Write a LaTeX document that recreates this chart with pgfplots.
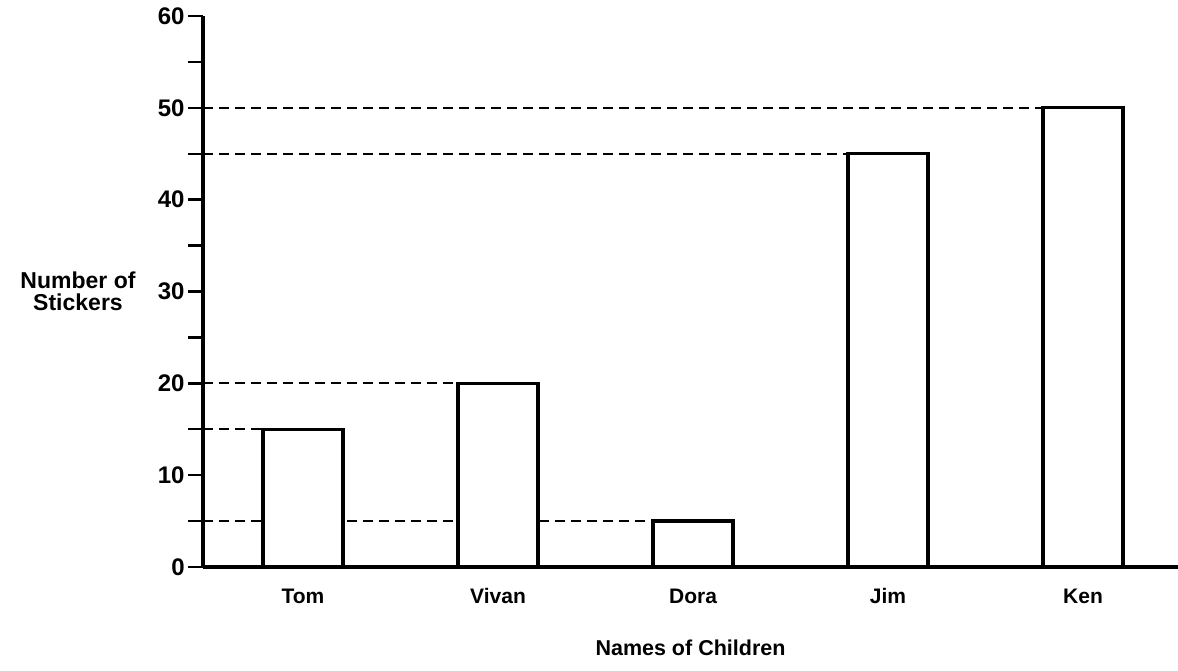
\documentclass[border=0pt]{standalone}
\usepackage{pgfplots}
\pgfplotsset{compat=1.18}
\usepackage{fontspec}
\setmainfont{Liberation Sans}
\begin{document}
\begin{tikzpicture}
\useasboundingbox (0,0) rectangle (589pt,335pt);
\begin{axis}[
  at={(101.5pt,51.5pt)}, anchor=south west,
  scale only axis, width=487.5pt, height=275.5pt,
  xmin=-0.5128, xmax=4.487, ymin=0, ymax=60,
  axis x line=bottom, axis y line=left,
  axis line style={-, line width=1.8pt},
  axis on top,
  xtick={0,1,2,3,4},
  xticklabels={Tom,Vivan,Dora,Jim,Ken},
  x tick style={draw=none},
  ytick={0,10,...,60},
  minor ytick={5,15,...,55},
  tick align=outside,
  major tick length=7.5pt, minor tick length=7.5pt,
  y tick style={line width=1.2pt, black},
  /pgf/number format/assume math mode=true,
  yticklabel style={font=\bfseries\fontsize{12}{13}\selectfont, inner sep=1.5pt},
  xticklabel style={font=\bfseries\fontsize{10.5}{12}\selectfont, yshift=1pt, text height=1.6ex, text depth=0.3ex},
  xlabel={Names of Children},
  xlabel style={font=\bfseries\fontsize{10.75}{12}\selectfont, at={(axis description cs:0.5,0)}, anchor=center, yshift=-40.5pt},
  ylabel={Number of\\Stickers},
  ylabel style={font=\bfseries\fontsize{11.5}{11}\selectfont, align=center, rotate=-90, at={(axis description cs:0,0.5)}, anchor=center, xshift=-62.5pt},
  dashline/.style={black, line width=1.1pt, dash pattern=on 5pt off 3pt, no markers},
]
\addplot[dashline] coordinates {(-0.5128,50) (3.795,50)};
\addplot[dashline] coordinates {(-0.5128,45) (2.795,45)};
\addplot[dashline] coordinates {(-0.5128,20) (0.795,20)};
\addplot[dashline] coordinates {(-0.5128,15) (-0.205,15)};
\addplot[dashline] coordinates {(-0.5128,5) (1.795,5)};
\addplot[ybar, bar width=40pt, fill=white, draw=black, line width=1.6pt, solid] coordinates {(0,15) (1,20) (2,5) (3,45) (4,50)};
\end{axis}
\end{tikzpicture}
\end{document}
